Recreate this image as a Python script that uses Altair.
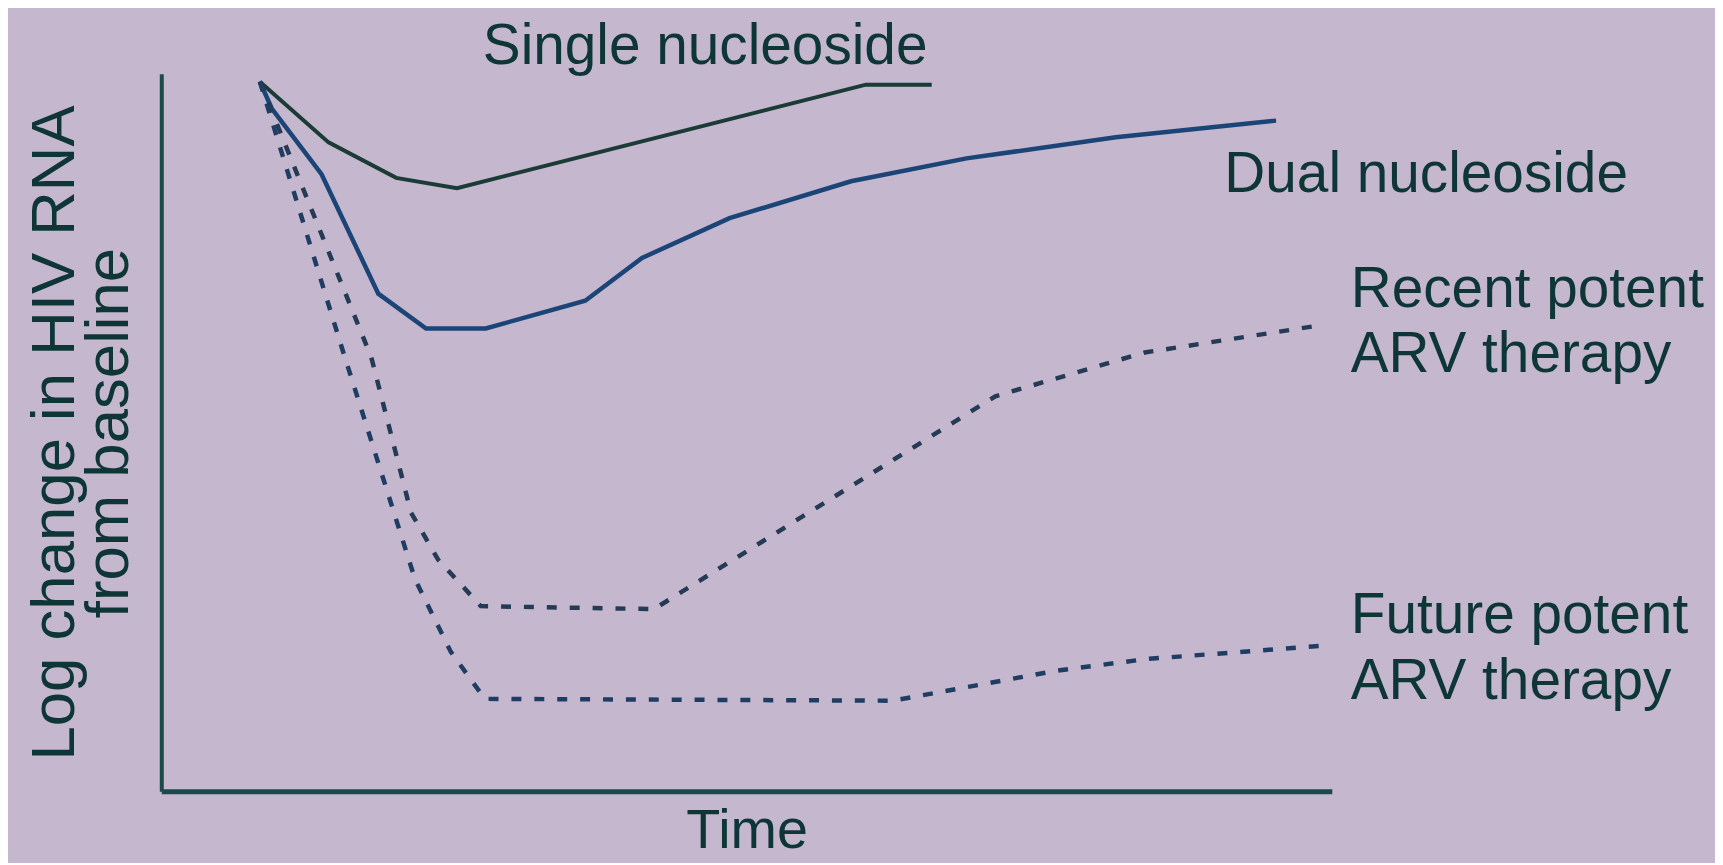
import altair as alt
import pandas as pd

# ---- data (schematic units: time 0-100, log change from baseline) ----
single_time = [8.42, 14.29, 20.07, 25.26, 60.20, 65.82]
single_logchg = [0.0, -0.265, -0.42, -0.465, -0.013, -0.013]

dual_time = [8.42, 9.44, 13.69, 18.54, 22.62, 27.72, 36.22, 41.07, 48.55, 58.93, 68.79, 81.55, 95.24]
dual_logchg = [0.0, -0.117, -0.404, -0.926, -1.078, -1.078, -0.957, -0.770, -0.596, -0.435, -0.335, -0.243, -0.170]

recent_time = [8.42, 17.94, 21.34, 23.64, 27.30, 42.09, 71.26, 84.01, 98.89]
recent_logchg = [0.0, -1.204, -1.883, -2.087, -2.291, -2.304, -1.374, -1.183, -1.065]

future_time = [8.42, 15.31, 21.68, 24.74, 27.64, 62.50, 76.36, 84.18, 98.89]
future_logchg = [0.0, -1.143, -2.174, -2.491, -2.696, -2.704, -2.574, -2.522, -2.465]

series_names = ["Single nucleoside", "Dual nucleoside",
                "Recent potent ARV therapy", "Future potent ARV therapy"]

label_texts = ["Single nucleoside", "Dual nucleoside", "Recent potent", "ARV therapy",
               "Future potent", "ARV therapy"]
label_time = [27.47, 90.82, 101.62, 101.62, 101.62, 101.62]
label_logchg = [0.078, -0.483, -0.983, -1.270, -2.409, -2.696]

x_title = "Time"
y_title = ["Log change in HIV RNA", "from baseline"]

# ---- build tables ----
rows = []
for name, ts, vs in zip(series_names,
                        [single_time, dual_time, recent_time, future_time],
                        [single_logchg, dual_logchg, recent_logchg, future_logchg]):
    for i, (t, v) in enumerate(zip(ts, vs)):
        rows.append({"series": name, "time": t, "logchg": v, "idx": i})
df = pd.DataFrame(rows)
labels_df = pd.DataFrame({"label": label_texts, "time": label_time, "logchg": label_logchg})

FONT = "Liberation Sans"
TEXT_COLOR = "#0f3636"
AXIS_COLOR = "#1c4a4a"
BG = "#c5b7ce"

x_scale = alt.Scale(domain=[0, 100], nice=False, zero=False)
y_scale = alt.Scale(domain=[-3.1, 0.035], nice=False, zero=False)

x_axis = alt.Axis(title=x_title, labels=False, ticks=False, grid=False,
                  domainColor=AXIS_COLOR, domainWidth=5,
                  titleFont=FONT, titleFontSize=56, titleFontWeight="normal",
                  titleColor=TEXT_COLOR, titleBaseline="alphabetic", titlePadding=56)
y_axis = alt.Axis(title=y_title, labels=False, ticks=False, grid=False,
                  domainColor=AXIS_COLOR, domainWidth=4,
                  titleFont=FONT, titleFontSize=62, titleFontWeight="normal",
                  titleColor=TEXT_COLOR, titleLineHeight=54, titlePadding=21)

base = alt.Chart(df).encode(
    x=alt.X("time:Q", scale=x_scale, axis=x_axis),
    y=alt.Y("logchg:Q", scale=y_scale, axis=y_axis),
    order=alt.Order("idx:Q"),
)

styles = {
    "Single nucleoside": dict(color="#1a3b36", strokeWidth=4),
    "Dual nucleoside": dict(color="#1b4477", strokeWidth=4.5),
    "Recent potent ARV therapy": dict(color="#253a55", strokeWidth=4.5, strokeDash=[10, 13]),
    "Future potent ARV therapy": dict(color="#1f3d63", strokeWidth=4.5, strokeDash=[10, 13]),
}

layers = []
for name in series_names:
    layers.append(
        base.transform_filter(alt.datum.series == name).mark_line(**styles[name])
    )

labels = alt.Chart(labels_df).mark_text(
    align="left", baseline="alphabetic", font=FONT, fontSize=57, color=TEXT_COLOR
).encode(
    x=alt.X("time:Q", scale=x_scale, axis=x_axis),
    y=alt.Y("logchg:Q", scale=y_scale, axis=y_axis),
    text="label:N",
)

chart = alt.layer(*layers, labels).properties(
    width=1176, height=721,
    autosize=alt.AutoSizeParams(type="none"),
    padding={"left": 154, "top": 64, "right": 385, "bottom": 70},
    background=BG,
).configure_view(stroke=None)

chart.save("out.html", embed_options={"renderer": "svg", "actions": False})
